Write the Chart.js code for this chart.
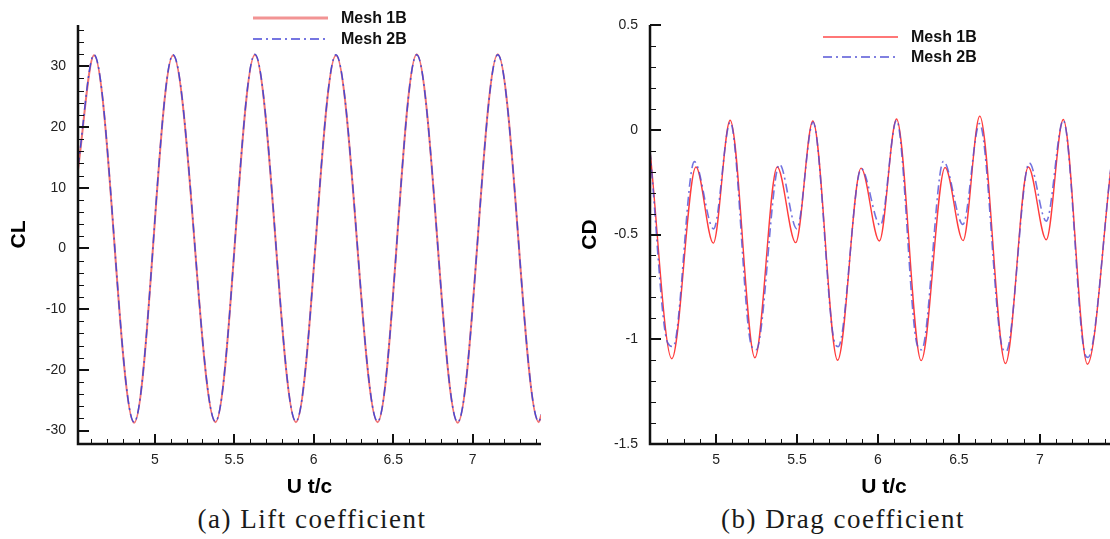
<!DOCTYPE html>
<html>
<head>
<meta charset="utf-8">
<script src="https://cdn.jsdelivr.net/npm/chart.js@4.4.1/dist/chart.umd.min.js"></script>
<style>
  html, body { margin: 0; padding: 0; background: #fff; }
  body { width: 1110px; height: 539px; overflow: hidden; position: relative; }
  canvas { position: absolute; top: 0; }
  #liftChart { left: 0; }
  #dragChart { left: 560px; }
  .caption {
    position: absolute; top: 506px; line-height: 27px;
    font-family: "Liberation Serif", serif; font-size: 27px; letter-spacing: 1.5px;
    color: #1a1a1a; white-space: nowrap; transform: translateX(-50%);
  }
</style>
</head>
<body>
<canvas id="liftChart" width="560" height="500"></canvas>
<canvas id="dragChart" width="560" height="500"></canvas>
<div class="caption" style="left:312px">(a) Lift coefficient</div>
<div class="caption" style="left:843px">(b) Drag coefficient</div>

<script>
// lift coefficient, both meshes sampled at the same instants
const clTime   = [4.517, 4.618, 4.870, 5.115, 5.382, 5.630, 5.888, 6.140, 6.402, 6.648, 6.906, 7.158, 7.416, 7.432];
const clMesh1B = [13.0, 31.8, -28.7, 31.8, -28.6, 31.9, -28.6, 31.8, -28.6, 32.0, -28.7, 32.0, -28.6, -27.4];
const clMesh2B = [13.5, 31.9, -28.6, 31.9, -28.5, 32.0, -28.5, 31.9, -28.5, 31.9, -28.6, 31.9, -28.5, -27.3];
const clTicksX = [5, 5.5, 6, 6.5, 7];
const clTicksY = [-30, -20, -10, 0, 10, 20, 30];

// drag coefficient
const cdTime1B = [4.592, 4.727, 4.876, 4.983, 5.087, 5.240, 5.378, 5.492, 5.598, 5.751, 5.896, 6.009,
                  6.115, 6.267, 6.415, 6.526, 6.629, 6.788, 6.929, 7.040, 7.145, 7.294, 7.440];
const cdMesh1B = [-0.10, -1.093, -0.178, -0.541, 0.045, -1.088, -0.178, -0.539, 0.042, -1.100, -0.183, -0.531,
                  0.051, -1.102, -0.180, -0.529, 0.065, -1.116, -0.178, -0.525, 0.049, -1.119, -0.178];
const cdTime2B = [4.592, 4.700, 4.735, 4.866, 4.985, 5.088, 5.218, 5.248, 5.392, 5.499, 5.599, 5.726, 5.755,
                  5.897, 6.015, 6.115, 6.240, 6.270, 6.405, 6.525, 6.628, 6.765, 6.792, 6.935, 7.040, 7.145,
                  7.275, 7.298, 7.440];
const cdMesh2B = [-0.10, -1.015, -1.035, -0.152, -0.473, 0.036, -1.030, -1.050, -0.165, -0.473, 0.036, -0.995, -1.035,
                  -0.186, -0.457, 0.045, -1.020, -1.050, -0.150, -0.452, 0.030, -1.030, -1.058, -0.159, -0.436, 0.045,
                  -1.060, -1.087, -0.175];
const cdTicksX = [5, 5.5, 6, 6.5, 7];
const cdTicksY = [-1.5, -1, -0.5, 0, 0.5];

const seriesNames = ['Mesh 1B', 'Mesh 2B'];
const dashDot = [9, 4, 2, 4];

Chart.defaults.font.family = '"Liberation Sans", Arial, sans-serif';

function toPoints(xs, ys) {
  return xs.map((x, i) => ({ x: x, y: ys[i] }));
}

// unlabeled ticks between the major ones
function minorTicks(from, to, step, majors) {
  const out = [];
  for (let v = from; v <= to + step / 2; v += step) {
    const r = Math.round(v * 1000) / 1000;
    if (!majors.some(m => Math.abs(m - r) < step / 10)) out.push(r);
  }
  return out;
}

// axis lines with inward ticks, and the line legend in the upper middle
const framePlugin = {
  id: 'frame',
  afterDatasetsDraw(chart, args, opts) {
    const { ctx, chartArea: a, scales: { x, y } } = chart;
    ctx.save();
    ctx.strokeStyle = '#111';
    ctx.lineWidth = 1;
    ctx.beginPath();
    opts.minorX.forEach(v => {
      const px = Math.round(x.getPixelForValue(v)) + 0.5;
      ctx.moveTo(px, a.bottom); ctx.lineTo(px, a.bottom - 5);
    });
    opts.minorY.forEach(v => {
      const py = Math.round(y.getPixelForValue(v)) + 0.5;
      ctx.moveTo(a.left, py); ctx.lineTo(a.left + 6, py);
    });
    ctx.stroke();

    ctx.lineWidth = 2;
    ctx.beginPath();
    x.ticks.forEach(t => {
      const px = Math.round(x.getPixelForValue(t.value));
      ctx.moveTo(px, a.bottom); ctx.lineTo(px, a.bottom - 10);
    });
    y.ticks.forEach(t => {
      const py = Math.round(y.getPixelForValue(t.value));
      ctx.moveTo(a.left, py); ctx.lineTo(a.left + 11, py);
    });
    ctx.stroke();

    ctx.lineWidth = 2.5;
    ctx.beginPath();
    ctx.moveTo(a.left, a.top);
    ctx.lineTo(a.left, a.bottom);
    ctx.lineTo(a.right, a.bottom);
    ctx.stroke();
    ctx.restore();

    const lg = opts.legend;
    chart.data.datasets.forEach((ds, i) => {
      const ly = lg.rows[i];
      ctx.save();
      ctx.strokeStyle = lg.colors[i];
      ctx.lineWidth = lg.widths[i];
      ctx.setLineDash(ds.borderDash || []);
      ctx.beginPath();
      ctx.moveTo(lg.x, ly); ctx.lineTo(lg.x + 75, ly);
      ctx.stroke();
      ctx.restore();
      ctx.fillStyle = '#111';
      ctx.font = 'bold 16px "Liberation Sans", Arial, sans-serif';
      ctx.textBaseline = 'middle';
      ctx.fillText(ds.label, lg.x + 88, ly + 1);
    });
  }
};

function makeChart(id, c) {
  const tickFont = { size: 14 };
  const titleFont = { size: 21, weight: 'bold' };
  return new Chart(document.getElementById(id), {
    type: 'line',
    data: {
      datasets: [
        {
          label: seriesNames[0], data: c.red, borderColor: c.redColor, borderWidth: c.redWidth,
          pointRadius: 0, cubicInterpolationMode: 'monotone', order: 1
        },
        {
          label: seriesNames[1], data: c.blue, borderColor: c.blueColor, borderWidth: c.blueWidth,
          borderDash: dashDot, pointRadius: 0, cubicInterpolationMode: 'monotone', order: 0
        }
      ]
    },
    options: {
      responsive: false,
      animation: false,
      events: [],
      layout: { padding: { top: 25, right: c.padRight, left: 0, bottom: 0 } },
      plugins: {
        legend: { display: false },
        tooltip: { enabled: false },
        frame: { minorX: c.minorX, minorY: c.minorY, legend: c.legend }
      },
      scales: {
        x: {
          type: 'linear', min: c.xMin, max: c.xMax,
          afterBuildTicks: s => { s.ticks = c.ticksX.map(v => ({ value: v })); },
          afterFit: s => { s.height = 56; },
          grid: { display: false, drawTicks: false },
          border: { display: false },
          ticks: { padding: 8, color: '#222', font: tickFont, maxRotation: 0, autoSkip: false, callback: v => String(v) },
          title: { display: true, text: 'U t/c', color: '#000', font: titleFont, padding: { top: 0, bottom: 0 } }
        },
        y: {
          type: 'linear', min: c.yMin, max: c.yMax,
          afterBuildTicks: s => { s.ticks = c.ticksY.map(v => ({ value: v })); },
          afterFit: s => { s.width = c.yWidth; },
          grid: { display: false, drawTicks: false },
          border: { display: false },
          ticks: { padding: 12, color: '#222', font: tickFont, autoSkip: false, callback: v => String(v) },
          title: { display: true, text: c.yTitle, color: '#000', font: titleFont, padding: { top: c.yTitlePad, bottom: 0 } }
        }
      }
    },
    plugins: [framePlugin]
  });
}

makeChart('liftChart', {
  red: toPoints(clTime, clMesh1B), blue: toPoints(clTime, clMesh2B),
  redColor: '#f27474', redWidth: 2, blueColor: '#4a4ad0', blueWidth: 1.5,
  xMin: 4.517, xMax: 7.43, yMin: -32.2, yMax: 36.8,
  ticksX: clTicksX, ticksY: clTicksY,
  minorX: minorTicks(4.6, 7.4, 0.1, clTicksX), minorY: minorTicks(-30, 36, 2, clTicksY),
  yTitle: 'CL', yTitlePad: 7, yWidth: 78, padRight: 19,
  legend: { x: 253, rows: [18, 39], colors: ['#f29494', '#4848d8'], widths: [3, 1.3] }
});

makeChart('dragChart', {
  red: toPoints(cdTime1B, cdMesh1B), blue: toPoints(cdTime2B, cdMesh2B),
  redColor: '#ff3c3c', redWidth: 1.4, blueColor: 'rgba(80,80,215,0.8)', blueWidth: 1.6,
  xMin: 4.592, xMax: 7.483, yMin: -1.5, yMax: 0.5,
  ticksX: cdTicksX, ticksY: cdTicksY,
  minorX: minorTicks(4.7, 7.4, 0.1, cdTicksX), minorY: minorTicks(-1.4, 0.4, 0.1, cdTicksY),
  yTitle: 'CD', yTitlePad: 18, yWidth: 90, padRight: 2,
  legend: { x: 263, rows: [37, 57], colors: ['#ff4a4a', '#8080e0'], widths: [1.3, 1.8] }
});
</script>
</body>
</html>
